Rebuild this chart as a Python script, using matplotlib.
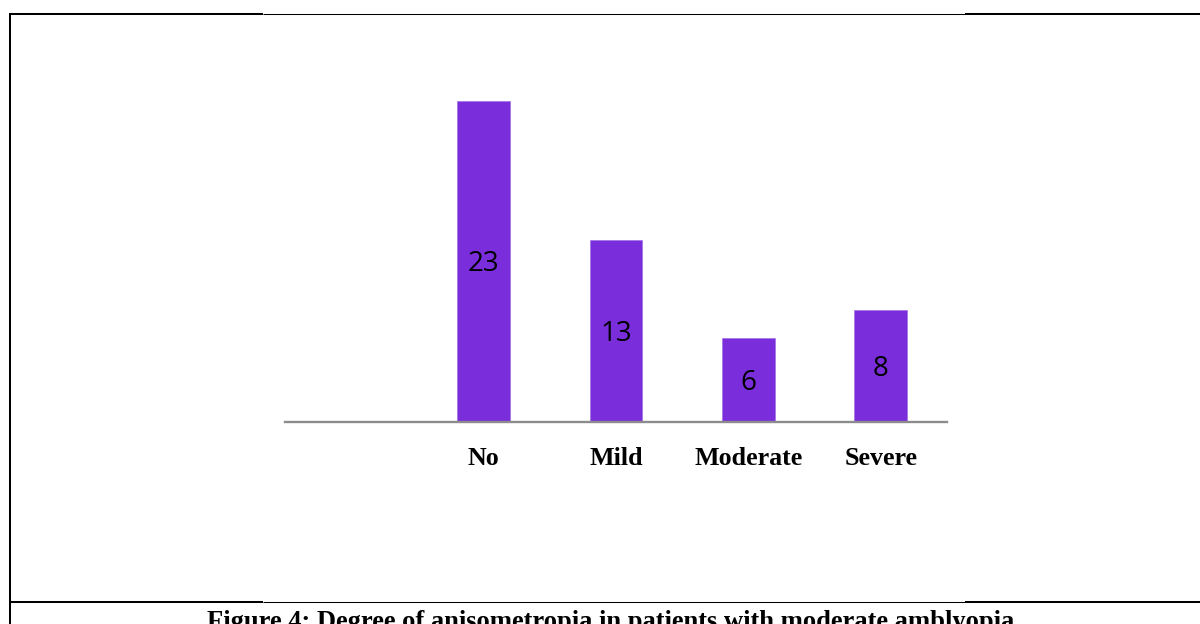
import numpy as np
import matplotlib
matplotlib.use("Agg")
import matplotlib.pyplot as plt
from matplotlib.lines import Line2D

# degree of anisometropia (first slot on the axis is left empty in the original)
categories = ["", "No", "Mild", "Moderate", "Severe"]
counts = [23, 13, 6, 8]
caption = "Figure 4: Degree of anisometropia in patients with moderate amblyopia"

W, H = 1200, 624
fig = plt.figure(figsize=(W / 100, H / 100), dpi=100)

def fx(px):
    return px / W

def fy(py):
    return 1 - py / H

# page frame around the figure
def frame_line(x0, x1, y0, y1, lw):
    fig.add_artist(Line2D([fx(x0), fx(x1)], [fy(y0), fy(y1)], transform=fig.transFigure,
                          color="black", lw=lw, solid_capstyle="butt"))

frame_line(10.3, 10.3, 13, 624, 1.45)
frame_line(9.3, 263, 14.3, 14.3, 1.45)
frame_line(263, 965, 13.8, 13.8, 0.75)
frame_line(965, 1200, 14.3, 14.3, 1.45)
frame_line(9.3, 263, 601.7, 601.7, 1.45)
frame_line(263, 965, 601.5, 601.5, 0.75)
frame_line(965, 1200, 601.7, 601.7, 1.45)

ax = fig.add_axes([fx(285), fy(422), fx(947) - fx(285), fy(80) - fy(422)])
xs = np.arange(1, len(categories))
bars = ax.bar(xs, counts, width=0.4, color="#7A2DDA", edgecolor="#9A66E6", linewidth=0.4)

ax.set_xlim(-0.5, len(categories) - 0.5)
ax.set_ylim(0, (422 - 80) / 13.97)

for b, v in zip(bars, counts):
    ax.annotate(str(v), (b.get_x() + b.get_width() / 2, v / 2), xytext=(0, -7.2),
                textcoords="offset points", ha="center", va="baseline",
                fontsize=20, family="Open Sans", color="black")

for side in ["top", "right", "left"]:
    ax.spines[side].set_visible(False)
ax.spines["bottom"].set_color("#8C8C8C")
ax.spines["bottom"].set_linewidth(1.7)
ax.set_yticks([])
ax.set_xticks(np.arange(len(categories)))
ax.set_xticklabels(categories, fontsize=18.7, family="Liberation Serif", fontweight="bold")
ax.tick_params(axis="x", length=0, pad=31)
plt.setp(ax.get_xticklabels(), va="baseline")

fig.text(fx(207), fy(629.2), caption, fontsize=19.1, family="Liberation Serif",
         fontweight="bold", ha="left", va="baseline")

fig.savefig("out.png", dpi=100)
